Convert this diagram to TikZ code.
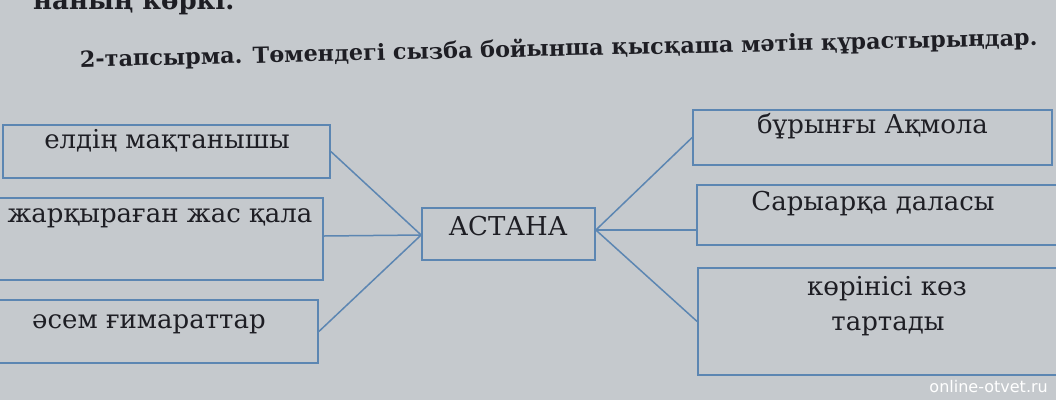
\documentclass[tikz,border=0pt]{standalone}
\usepackage{fontspec}
\setmainfont{DejaVu Serif}
\setsansfont{DejaVu Sans}
\usetikzlibrary{positioning}
\definecolor{paper}{RGB}{197,201,205}
\definecolor{frame}{RGB}{92,134,178}
\definecolor{ink}{RGB}{30,30,36}

\begin{document}
\begin{tikzpicture}[x=1pt,y=-1pt,
  box/.style={draw=frame,line width=1.7pt,rectangle,inner sep=0pt},
  word/.style={text=ink,font=\fontsize{26}{30}\selectfont,inner sep=0pt,anchor=base},
  link/.style={draw=frame,line width=1.5pt}]
\useasboundingbox (0,0) rectangle (1056,400);
\clip (0,0) rectangle (1056,400);
\fill[paper] (0,0) rectangle (1056,400);
% text above the diagram
\node[text=ink,font=\fontsize{26}{30}\selectfont\bfseries,inner sep=0pt,anchor=base west] (prev) at (33,9) {наның көркі.};
\node[text=ink,font=\fontsize{22.3}{26}\selectfont\bfseries,inner sep=0pt,anchor=base west,rotate=1.3] (task) at (80,67) {2-тапсырма. Төмендегі сызба бойынша қысқаша мәтін құрастырыңдар.};
% boxes
\node[box,minimum width=327,minimum height=53] (l1) at (166.5,151.5) {};
\node[box,minimum width=326,minimum height=82] (l2) at (160,239) {};
\node[box,minimum width=338,minimum height=63] (l3) at (149,331.5) {};
\node[box,minimum width=173,minimum height=52] (c) at (508.5,234) {};
\node[box,minimum width=359,minimum height=55] (r1) at (872.5,137.5) {};
\node[box,minimum width=383,minimum height=60] (r2) at (888.5,215) {};
\node[box,minimum width=382,minimum height=107] (r3) at (889,321.5) {};
% labels
\node[word] (l1t) at (167,148) {елдің мақтанышы};
\node[word] (l2t) at (160,222) {жарқыраған жас қала};
\node[word] (l3t) at (149,328) {әсем ғимараттар};
\node[word] (ct) at (508,235) {АСТАНА};
\node[word] (r1t) at (872.5,133) {бұрынғы Ақмола};
\node[word] (r2t) at (873,210) {Сарыарқа даласы};
\node[word] (r3t) at (887,295) {көрінісі көз};
\node[word] (r3u) at (888,330) {тартады};
% links
\coordinate (cw) at ([yshift=-1]c.west);
\coordinate (ce) at ([yshift=4]c.east);
\coordinate (r2w) at (r2.west |- ce);
\draw[link] (l1.east) -- (cw);
\draw[link] ([yshift=3]l2.east) -- (cw);
\draw[link] (l3.east) -- (cw);
\draw[link] (ce) -- (r1.west);
\draw[link] (ce) -- (r2w);
\draw[link] (ce) -- (r3.west);
\node[text=white,font=\sffamily\fontsize{16}{18}\selectfont,inner sep=0pt,anchor=base east] (mark) at (1048,392) {online-otvet.ru};
\end{tikzpicture}
\end{document}
